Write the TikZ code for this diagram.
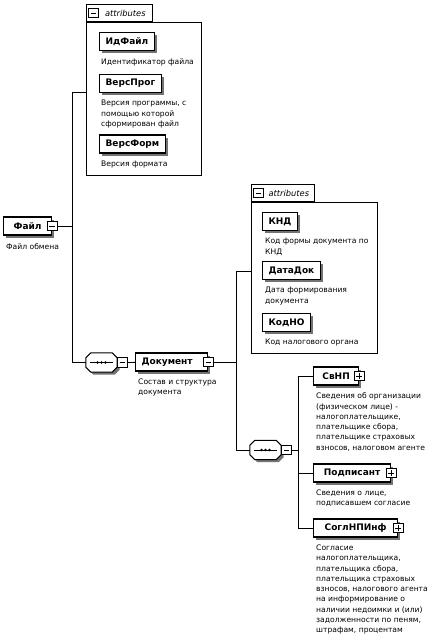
\documentclass[tikz,border=0pt]{standalone}
\usepackage{fontspec}
\setmainfont{DejaVu Sans}
\usetikzlibrary{positioning, calc, shadows}

\tikzset{
  boxshadow/.style={drop shadow={shadow xshift=2.5pt, shadow yshift=-2.5pt, fill=black!55, opacity=1}},
  namebox/.style={draw, fill=white, line width=1.2pt, anchor=west, minimum height=18pt,
    inner xsep=6pt, inner ysep=0pt, font=\fontsize{9}{10}\selectfont\bfseries, boxshadow},
  desc/.style={anchor=north west, align=left, inner sep=0pt, font=\fontsize{7.6}{10.3}\selectfont},
  expbox/.style={draw, fill=white, line width=0.8pt, minimum size=9.5pt, inner sep=0pt},
  minusbox/.style={expbox, path picture={
    \draw ([xshift=2pt]path picture bounding box.west) -- ([xshift=-2pt]path picture bounding box.east);}},
  plusbox/.style={expbox, path picture={
    \draw ([xshift=2pt]path picture bounding box.west) -- ([xshift=-2pt]path picture bounding box.east);
    \draw ([yshift=2pt]path picture bounding box.south) -- ([yshift=-2pt]path picture bounding box.north);}},
  seqbox/.style={minimum width=31pt, minimum height=19pt, inner sep=0pt},
  seqline/.style={draw, fill=white, line width=1pt, boxshadow},
  attrframe/.style={draw, line width=0.8pt, anchor=north west, inner sep=0pt},
  attrtab/.style={draw, line width=0.8pt, anchor=south west, minimum width=66pt, minimum height=17pt,
    inner xsep=2pt, inner ysep=0pt, font=\fontsize{8.3}{10}\selectfont\itshape},
  wire/.style={line width=0.8pt}
}

\begin{document}
\begin{tikzpicture}[x=1pt, y=-1pt]
    \useasboundingbox (0,0) rectangle (432,638);

    % root
    \node (fayl) [namebox, minimum width=48pt] at (3,226) {Файл\hspace{10pt}};
    \node (fayl-x) [minusbox] at (fayl.east) {};
    \node (fayl-d) [desc] at ([xshift=3pt,yshift=-8pt]fayl.south west) {Файл обмена};

    % attributes of the file
    \node (attrs1) [attrframe, minimum width=115pt, minimum height=153pt] at (86,22) {};
    \node (tab1) [attrtab] at (attrs1.north west) {\hspace{12pt}attributes};
    \node (tab1-x) [minusbox] at ([xshift=7.5pt]tab1.west) {};
    \coordinate (attrs1-in) at ($(attrs1.north west)!0.46!(attrs1.south west)$);

    \node (idfayl) [namebox] at (99,41.5) {ИдФайл};
    \node (idfayl-d) [desc] at ([xshift=2pt,yshift=-7pt]idfayl.south west) {Идентификатор файла};
    \node (versprog) [namebox] at (99,83.5) {ВерсПрог};
    \node (versprog-d) [desc] at ([xshift=2pt,yshift=-7pt]versprog.south west)
        {Версия программы, с\\помощью которой\\сформирован файл};
    \node (versform) [namebox] at (99,144) {ВерсФорм};
    \node (versform-d) [desc] at ([xshift=2pt,yshift=-7pt]versform.south west) {Версия формата};

    % sequence compositors
    \node (seq1) [seqbox] at (101.5,362.5) {};
    \node (seq2) [seqbox] at (265.5,450) {};
    \foreach \s in {seq1, seq2} {
        \path [seqline] ([xshift=5pt]\s.north west) -- ([xshift=-5pt]\s.north east)
            -- ([yshift=-5pt]\s.north east) -- ([yshift=5pt]\s.south east)
            -- ([xshift=-5pt]\s.south east) -- ([xshift=5pt]\s.south west)
            -- ([yshift=5pt]\s.south west) -- ([yshift=-5pt]\s.north west) -- cycle;
        \draw [wire] ([xshift=4pt]\s.west) -- ([xshift=-4pt]\s.east);
        \foreach \dx in {-4,0,4}
            \fill ([xshift=\dx pt]\s.center) circle (1.4pt);
    }
    \node (seq1-x) [minusbox, right=0pt of seq1] {};
    \node (seq2-x) [minusbox, right=0pt of seq2] {};

    \node (doc) [namebox, minimum width=68pt, align=left] at (135,362) {Документ\hspace{9pt}};
    \node (doc-x) [minusbox] at (doc.east) {};
    \node (doc-d) [desc] at ([xshift=3pt,yshift=-7pt]doc.south west) {Состав и структура\\документа};

    % attributes of the document
    \node (attrs2) [attrframe, minimum width=126pt, minimum height=151pt] at (251,202) {};
    \node (tab2) [attrtab, minimum width=63pt] at (attrs2.north west) {\hspace{12pt}attributes};
    \node (tab2-x) [minusbox] at ([xshift=7.5pt]tab2.west) {};
    \coordinate (attrs2-in) at ($(attrs2.north west)!0.46!(attrs2.south west)$);

    \node (knd) [namebox] at (262,221.5) {КНД};
    \node (knd-d) [desc] at ([xshift=3pt,yshift=-7pt]knd.south west) {Код формы документа по\\КНД};
    \node (datadok) [namebox] at (262,270.5) {ДатаДок};
    \node (datadok-d) [desc] at ([xshift=3pt,yshift=-7pt]datadok.south west) {Дата формирования\\документа};
    \node (kodno) [namebox] at (262,322.5) {КодНО};
    \node (kodno-d) [desc] at ([xshift=3pt,yshift=-7pt]kodno.south west) {Код налогового органа};

    % children of the document
    \node (svnp) [namebox, minimum width=45pt] at (313,376) {СвНП\hspace{11pt}};
    \node (svnp-x) [plusbox] at (svnp.east) {};
    \node (svnp-d) [desc] at ([xshift=3pt,yshift=-7pt]svnp.south west)
        {Сведения об организации\\(физическом лице) -\\налогоплательщике,\\плательщике сбора,\\плательщике страховых\\взносов, налоговом агенте};
    \node (podp) [namebox, minimum width=77pt] at (313,473) {Подписант\hspace{11pt}};
    \node (podp-x) [plusbox] at (podp.east) {};
    \node (podp-d) [desc] at ([xshift=3pt,yshift=-7pt]podp.south west) {Сведения о лице,\\подписавшем согласие};
    \node (sogl) [namebox, minimum width=84pt] at (313,528) {СоглНПИнф\hspace{11pt}};
    \node (sogl-x) [plusbox] at (sogl.east) {};
    \node (sogl-d) [desc] at ([xshift=3pt,yshift=-7pt]sogl.south west)
        {Согласие\\налогоплательщика,\\плательщика сбора,\\плательщика страховых\\взносов, налогового агента\\на информирование о\\наличии недоимки и (или)\\задолженности по пеням,\\штрафам, процентам};

    % connectors
    \coordinate (spine1) at (72,226);
    \coordinate (spine2) at (236,362);
    \coordinate (spine3) at (298,450);
    \draw [wire] (fayl-x) -- (spine1);
    \draw [wire] (spine1) |- (attrs1-in);
    \draw [wire] (spine1) |- (seq1);
    \draw [wire] (seq1-x) -- (doc);
    \draw [wire] (doc-x) -- (spine2);
    \draw [wire] (spine2) |- (attrs2-in);
    \draw [wire] (spine2) |- (seq2);
    \draw [wire] (seq2-x) -- (spine3);
    \draw [wire] (spine3) |- (svnp);
    \draw [wire] (spine3) |- (podp);
    \draw [wire] (spine3) |- (sogl);
\end{tikzpicture}
\end{document}
